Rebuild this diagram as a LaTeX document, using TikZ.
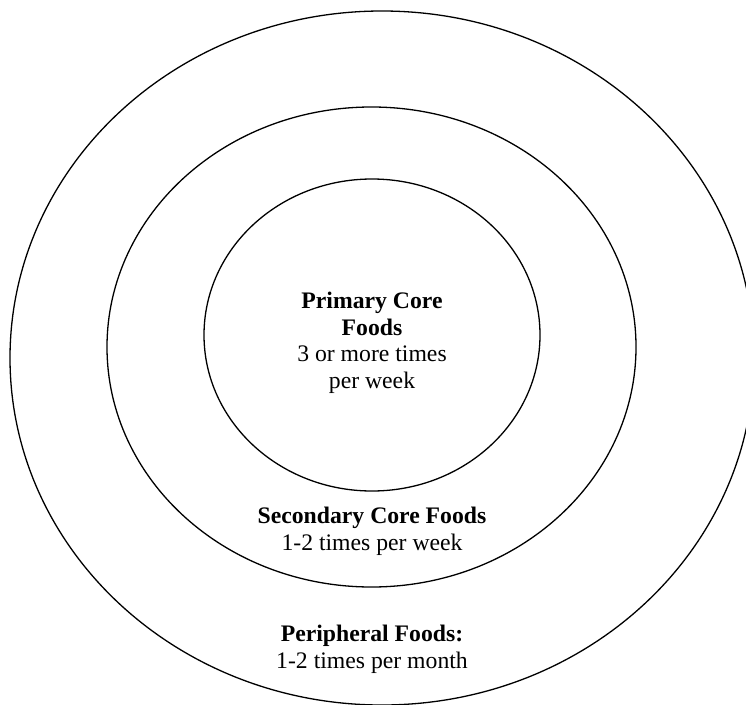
\documentclass[tikz,border=0pt]{standalone}
\usepackage{fontspec}
\setmainfont{Liberation Serif}
\tikzset{
  ring/.style={draw=black, line width=1.3pt},
  lbl/.style={anchor=base, inner sep=0pt, font=\fontsize{23.7}{26.5}\selectfont},
  lblb/.style={lbl, font=\fontsize{23.7}{26.5}\selectfont\bfseries}
}
\begin{document}
\begin{tikzpicture}[x=1pt,y=-1pt]
\useasboundingbox (0,0) rectangle (746,704);
\clip (0,0) rectangle (746,704);
\fill[white] (0,0) rectangle (746,704);
% rings
\draw[ring] (382,358) ellipse [x radius=372, y radius=347];
\draw[ring] (371.5,347) ellipse [x radius=264.5, y radius=240];
\draw[ring] (372,335) ellipse [x radius=168, y radius=156];
% primary
\node[lblb] (p1) at (372,308) {Primary Core};
\node[lblb] (p2) at (372,335) {Foods};
\node[lbl] (p3) at (372,361.5) {3 or more times};
\node[lbl] (p4) at (372,388) {per week};
% secondary
\node[lblb] (s1) at (372,523) {Secondary Core Foods};
\node[lbl] (s2) at (372,550) {1-2 times per week};
% peripheral
\node[lblb] (r1) at (372,641) {Peripheral Foods:};
\node[lbl] (r2) at (372,668) {1-2 times per month};
\end{tikzpicture}
\end{document}
